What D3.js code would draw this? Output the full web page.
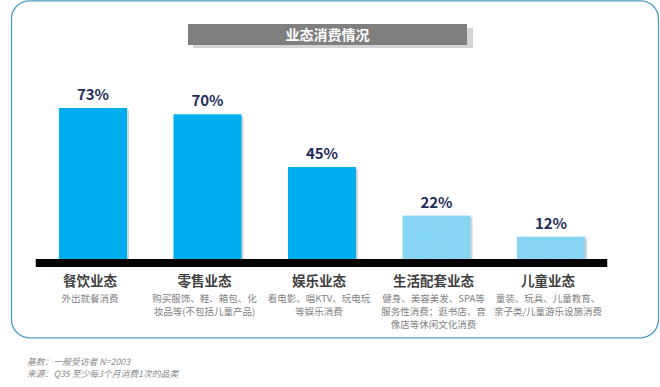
<!DOCTYPE html>
<html><head><meta charset="utf-8">
<script src="https://cdn.jsdelivr.net/npm/d3@7"></script>
<style>
html,body{margin:0;padding:0;background:#fff;}
svg{display:block;}
text{font-family:"Noto Sans CJK SC","Noto Sans",sans-serif;}
</style></head>
<body>
<svg id="chart" width="660" height="387"></svg>
<script>
const title = "业态消费情况";
const categories = ["餐饮业态","零售业态","娱乐业态","生活配套业态","儿童业态"];
const values = [73, 70, 45, 22, 12];
const valueLabels = ["73%","70%","45%","22%","12%"];
const descriptions = [
  ["外出就餐消费"],
  ["购买服饰、鞋、箱包、化","妆品等(不包括儿童产品)"],
  ["看电影、唱KTV、玩电玩","等娱乐消费"],
  ["健身、美容美发、SPA等","服务性消费；逛书店、音","像店等休闲文化消费"],
  ["童装、玩具、儿童教育、","亲子类/儿童游乐设施消费"]
];
const highlighted = [true, true, true, false, false];
const footnotes = ["基数：一般受访者 N=2003","来源：Q35 至少每3个月消费1次的品类"];

const svg = d3.select("#chart");

// frame
svg.append("rect").attr("x",11.5).attr("y",0.8).attr("width",647).attr("height",337)
  .attr("rx",18).attr("ry",18).attr("fill","none").attr("stroke","#4a9fc6").attr("stroke-width",1.3);

// pattern for light bars
const defs = svg.append("defs");
const pat = defs.append("pattern").attr("id","dots").attr("width",3).attr("height",3)
  .attr("patternUnits","userSpaceOnUse");
pat.append("rect").attr("width",3).attr("height",3).attr("fill","#80d3f4");
pat.append("rect").attr("x",0).attr("y",0).attr("width",1).attr("height",1).attr("fill","#a6e0f7");
pat.append("rect").attr("x",1.5).attr("y",1.5).attr("width",1).attr("height",1).attr("fill","#a6e0f7");

// title box
svg.append("rect").attr("x",193).attr("y",28).attr("width",280).attr("height",20).attr("fill","#d4d4d4");
svg.append("rect").attr("x",188).attr("y",24).attr("width",279).attr("height",21).attr("fill","#7f7f7f");
svg.append("text").attr("x",327.5).attr("y",40).attr("text-anchor","middle")
  .attr("fill","#fff").attr("font-size",14).attr("font-weight",700).text(title);

const x = d3.scaleBand().domain(categories).range([35.75, 608.25])
  .paddingInner(0.406).paddingOuter(0.203);
const y = d3.scaleLinear().domain([0,100]).range([262, 51]);

const g = svg.append("g");
// shadows
g.selectAll("rect.sh").data(values).join("rect").attr("class","sh")
  .attr("x",(d,i)=>x(categories[i])+2).attr("y",d=>y(d)+2)
  .attr("width",x.bandwidth()).attr("height",d=>y(0)-y(d))
  .attr("fill","#d0d6da");
g.selectAll("rect.bar").data(values).join("rect").attr("class","bar")
  .attr("x",(d,i)=>x(categories[i])).attr("y",d=>y(d))
  .attr("width",x.bandwidth()).attr("height",d=>y(0)-y(d))
  .attr("fill",(d,i)=>highlighted[i] ? "#00aeef" : "url(#dots)");

// baseline
svg.append("rect").attr("x",x.range()[0]).attr("y",259)
  .attr("width",x.range()[1]-x.range()[0]-1).attr("height",8).attr("fill","#000");

// value labels
g.selectAll("text.val").data(values).join("text").attr("class","val")
  .attr("x",(d,i)=>x(categories[i])+x.bandwidth()/2).attr("y",d=>y(d)-8)
  .attr("text-anchor","middle").attr("font-size",15).attr("font-weight",700)
  .attr("fill","#1f2d5c").text((d,i)=>valueLabels[i]);

// category labels
g.selectAll("text.cat").data(categories).join("text").attr("class","cat")
  .attr("x",d=>x(d)+x.bandwidth()/2 - 3).attr("y",286)
  .attr("text-anchor","middle").attr("font-size",13.5).attr("font-weight",700)
  .attr("fill","#404040").text(d=>d);

categories.forEach((c,i)=>{
  descriptions[i].forEach((line,j)=>{
    svg.append("text").attr("x",x(c)+x.bandwidth()/2 - 3).attr("y",302+j*13.2)
      .attr("text-anchor","middle").attr("font-size",9.5).attr("fill","#808080").text(line);
  });
});

// footnotes
footnotes.forEach((f,i)=>{
  svg.append("text").attr("x",27).attr("y",364.5+i*12.8).attr("font-size",8.8)
    .attr("font-style","italic").attr("fill","#8a8a8a").text(f);
});
</script>
</body></html>
